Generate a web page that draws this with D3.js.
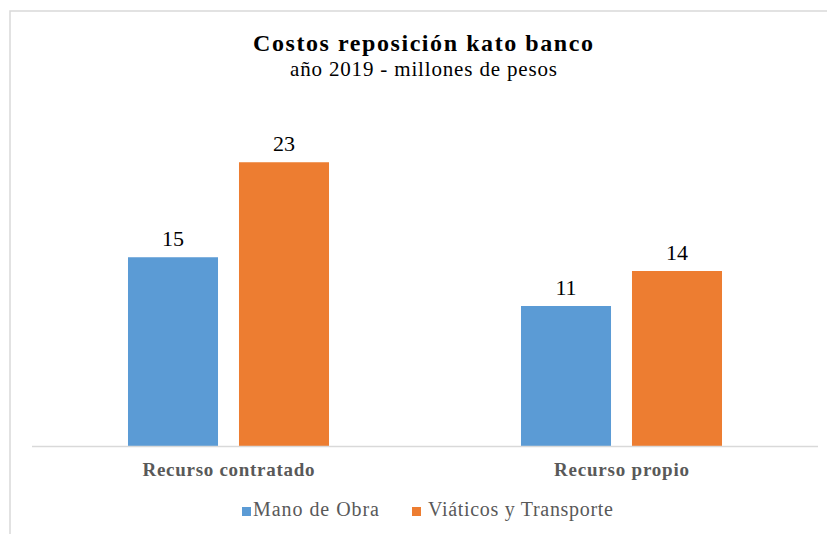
<!DOCTYPE html>
<html>
<head>
<meta charset="utf-8">
<script src="https://cdn.jsdelivr.net/npm/d3@7"></script>
<style>
  body { margin: 0; background: #fff; }
  svg text { font-family: "Liberation Serif", "Times New Roman", serif; }
</style>
</head>
<body>
<script>
"use strict";
const categories = ["Recurso contratado", "Recurso propio"];
const seriesNames = ["Mano de Obra", "Viáticos y Transporte"];
const manoDeObra = [15.1, 11.2];
const viaticos = [22.7, 14.0];
const seriesColors = ["#5b9bd5", "#ed7d31"];

// widths of the labels as drawn in the reference (Times is wider there)
const catWidth = { "Recurso contratado": 172, "Recurso propio": 135 };

function app() {
	const w = 827;
	const h = 534;
	const base = 446;
	const svg = d3.select("body").append("svg").attr("width", w).attr("height", h);

	svg.append("rect").attr("x", 10).attr("y", 11).attr("width", 840).attr("height", 540)
		.attr("fill", "#fff").attr("stroke", "#d9d9d9").attr("stroke-width", 1.5);

	svg.append("text").attr("x", 423).attr("y", 51).attr("text-anchor", "middle")
		.attr("font-size", 24).attr("font-weight", "bold").attr("fill", "#000")
		.attr("textLength", 340).attr("lengthAdjust", "spacing")
		.text("Costos reposición kato banco");
	svg.append("text").attr("x", 423.5).attr("y", 76).attr("text-anchor", "middle")
		.attr("font-size", 21).attr("fill", "#000")
		.attr("textLength", 267).attr("lengthAdjust", "spacing")
		.text("año 2019 - millones de pesos");

	const x0 = d3.scaleBand().domain(categories).range([32, 818]).paddingInner(0.4885).paddingOuter(0.4885 / 2);
	const x1 = d3.scaleBand().domain(seriesNames).range([0, x0.bandwidth()]).paddingInner(0.189);
	const y = d3.scaleLinear().domain([0, 25]).range([base, base - 312.5]);

	const rows = categories.map((c, i) => ({ cat: c, vals: [manoDeObra[i], viaticos[i]] }));
	const groups = svg.selectAll("g.grp").data(rows).enter().append("g").attr("class", "grp")
		.attr("transform", d => "translate(" + x0(d.cat) + ",0)");

	groups.selectAll("rect").data(d => d.vals.map((v, j) => ({ s: seriesNames[j], v: v, j: j }))).enter().append("rect")
		.attr("x", d => x1(d.s)).attr("y", d => y(d.v)).attr("width", x1.bandwidth())
		.attr("height", d => base - y(d.v)).attr("fill", d => seriesColors[d.j]);

	groups.selectAll("text.lbl").data(d => d.vals.map((v, j) => ({ s: seriesNames[j], v: v }))).enter().append("text")
		.attr("class", "lbl").attr("x", d => x1(d.s) + x1.bandwidth() / 2).attr("y", d => y(d.v) - 11)
		.attr("text-anchor", "middle").attr("font-size", 22).attr("fill", "#000")
		.text(d => d3.format(".0f")(d.v));

	const xAxis = d3.axisBottom(x0).tickSize(0).tickPadding(15);
	const ax = svg.append("g").attr("transform", "translate(0," + base + ")").call(xAxis);
	ax.select(".domain").remove();
	ax.append("line").attr("x1", 32).attr("x2", 818).attr("y1", 0.5).attr("y2", 0.5)
		.attr("stroke", "#d9d9d9").attr("stroke-width", 1.5);
	ax.selectAll(".tick text").attr("font-family", null).attr("font-size", 19).attr("dy", null).attr("y", 30)
		.attr("font-weight", "bold").attr("fill", "#595959")
		.attr("textLength", d => catWidth[d]).attr("lengthAdjust", "spacing");

	const leg = [{ name: seriesNames[0], x: 242, tw: 126 }, { name: seriesNames[1], x: 412, tw: 185 }];
	const lg = svg.selectAll("g.leg").data(leg).enter().append("g").attr("class", "leg")
		.attr("transform", d => "translate(" + d.x + ",507)");
	lg.append("rect").attr("width", 9).attr("height", 9).attr("fill", (d, i) => seriesColors[i]);
	lg.append("text").attr("x", (d, i) => i === 0 ? 11 : 16).attr("y", 9).attr("font-size", 20).attr("fill", "#595959")
		.attr("textLength", d => d.tw).attr("lengthAdjust", "spacing").text(d => d.name);
}

app();
</script>
</body>
</html>
